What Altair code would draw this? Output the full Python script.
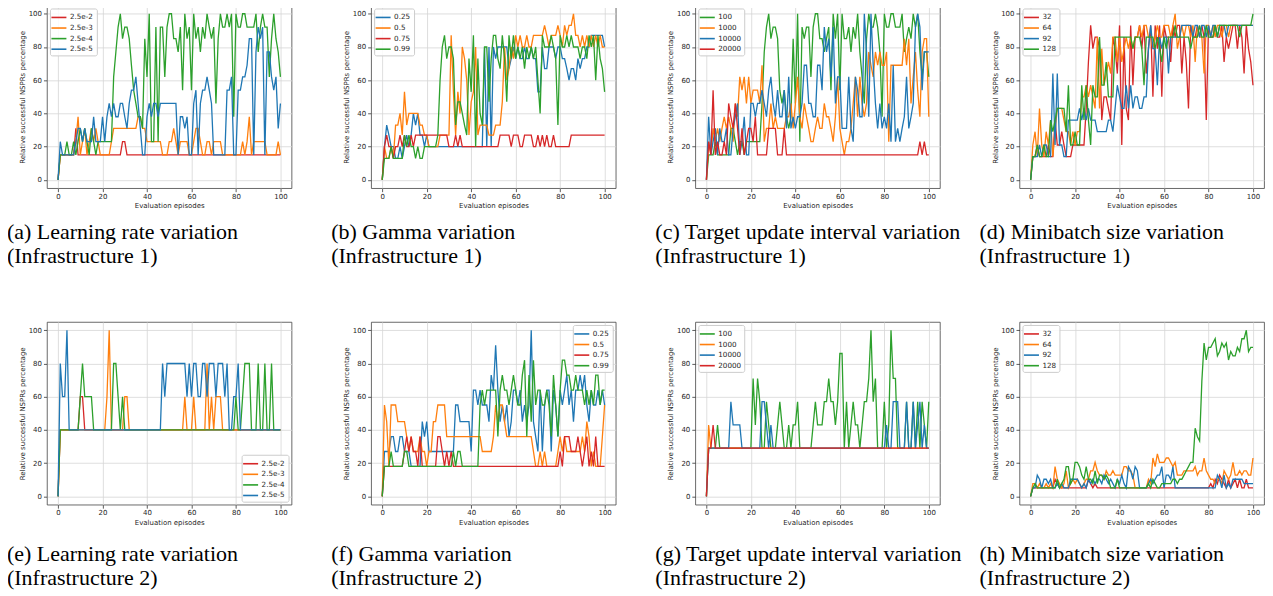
import altair as alt
import pandas as pd

episodes = list(range(101))

# ---------------- Panel (a): learning rate, infrastructure 1 ----------------
a_names = ["2.5e-2", "2.5e-3", "2.5e-4", "2.5e-5"]
a_colors = ["#d62728", "#ff7f0e", "#2ca02c", "#1f77b4"]
a_v1 = [0,15,15,15,15,15,15,15,31,15, 15,15,15,15,15,15,15,15,15,15, 15,15,15,15,15,15,15,15,15,23,
        23,15,15,15,15,15,15,15,15,15, 15,15,15,15,15,15,15,15,15,15, 15,15,15,15,15,15,15,15,15,15,
        15,15,15,15,15,15,15,15,15,15, 15,15,15,15,15,15,15,15,15,15, 15,15,15,15,15,15,15,15,15,15,
        15,15,15,15,15,15,15,15,15,15, 15]
a_v2 = [0,15,15,15,15,15,15,15,23,38, 15,23,31,15,23,31,23,31,23,15, 15,15,15,15,23,31,31,31,31,31,
        31,31,31,31,31,31,38,38,31,31, 23,23,23,23,23,23,23,15,15,15, 23,23,31,23,15,23,23,23,23,15,
        15,23,31,31,23,15,15,23,23,15, 23,23,23,23,15,15,15,15,15,15, 15,15,15,23,15,23,38,15,23,23,
        23,23,23,23,15,15,15,15,15,23, 15]
a_v3 = [0,15,15,15,23,15,15,23,15,23, 31,23,31,23,15,31,23,15,23,23, 23,23,23,23,23,62,77,92,100,85,
        92,92,85,69,54,46,38,38,31,85, 62,100,23,23,92,23,92,92,62,92, 100,100,85,85,77,92,54,100,85,92,
        54,100,85,92,77,92,85,100,92,85, 92,46,85,100,92,92,100,92,100,38, 100,92,92,100,100,92,92,92,92,100,
        77,92,100,92,92,62,85,100,85,77, 62]
a_v4 = [0,23,15,15,15,15,15,15,23,31, 31,23,31,23,23,23,38,23,23,23, 38,23,38,46,38,46,38,38,46,46,
        38,31,46,54,54,62,46,31,15,15, 38,46,38,46,46,38,46,46,46,46, 46,46,46,46,15,38,38,31,38,15,
        15,46,54,15,46,54,54,62,54,46, 15,15,15,15,15,15,54,54,62,15, 15,54,54,62,62,69,85,85,15,77,
        92,85,92,15,77,77,62,54,62,31, 46]

# ---------------- Panel (b): gamma, infrastructure 1 ----------------
b_names = ["0.25", "0.5", "0.75", "0.99"]
b_colors = ["#1f77b4", "#ff7f0e", "#d62728", "#2ca02c"]
b_v1 = [0,20,33,27,20,20,13,13,20,13, 20,27,20,27,40,33,40,27,27,20, 27,20,20,20,20,20,20,20,20,20,
        20,20,20,20,20,20,20,20,20,20, 20,20,20,20,20,20,80,20,80,20, 80,73,80,80,80,80,80,67,73,80,
        73,80,73,73,80,73,73,80,73,73, 53,53,80,67,67,80,80,80,73,80, 80,73,73,67,60,67,67,60,73,67,
        73,73,80,80,87,87,87,87,87,87, 80]
b_v2 = [0,20,13,13,20,13,33,33,40,27, 53,33,40,40,40,40,40,33,33,27, 27,20,20,20,20,20,27,27,27,27,
        27,87,53,27,53,40,80,73,60,27, 47,53,80,27,33,33,33,33,27,27, 27,33,33,33,47,80,60,67,80,73,
        87,80,87,80,80,87,80,80,87,87, 87,87,87,93,87,80,87,87,87,93, 87,80,93,87,93,93,100,87,87,80,
        87,80,87,80,87,80,87,80,87,80, 80]
b_v3 = [0,20,27,20,20,13,20,20,27,20, 27,20,20,27,20,27,27,27,27,27, 27,27,27,27,27,27,27,27,27,27,
        20,20,20,27,20,27,20,20,20,20, 20,20,20,20,20,20,20,20,20,20, 20,20,20,27,27,27,27,27,20,27,
        27,27,20,20,27,27,27,27,20,20, 27,20,27,20,27,20,20,27,20,20, 20,20,20,20,20,27,27,27,27,27,
        27,27,27,27,27,27,27,27,27,27, 27]
b_v4 = [0,13,13,13,20,13,13,13,13,13, 27,20,27,20,20,13,20,13,13,20, 20,20,20,20,20,27,60,80,87,73,
        80,80,73,33,47,47,40,33,27,73, 53,87,20,73,40,33,80,80,47,73, 87,87,73,67,87,73,47,87,73,87,
        73,80,73,80,67,80,73,80,73,80, 60,40,87,80,80,80,87,80,73,33, 87,80,80,87,80,87,80,80,80,73,
        80,80,73,87,80,87,60,87,73,67, 53]

# ---------------- Panel (c): target update interval, infrastructure 1 ----------------
c_names = ["100", "1000", "10000", "20000"]
c_colors = ["#2ca02c", "#ff7f0e", "#1f77b4", "#d62728"]
c_v1 = [0,15,15,15,23,15,15,15,15,15, 15,31,31,23,15,23,23,15,23,23, 23,23,23,23,23,46,77,92,100,85,
        92,92,85,54,46,54,38,31,38,85, 46,100,23,92,85,92,92,62,92,100, 100,85,85,77,85,92,54,100,85,100,
        54,100,85,85,92,77,92,85,100,77, 62,46,85,100,92,92,100,92,77,38, 100,92,92,100,100,92,92,92,100,77,
        85,92,85,100,92,100,77,62,77,77, 62]
c_v2 = [0,23,15,31,23,31,23,31,38,31, 38,31,23,46,38,62,54,62,46,62, 46,54,54,54,46,69,23,31,31,46,
        31,38,31,31,31,31,38,38,46,31, 46,62,38,31,46,38,31,23,23,31, 38,31,31,46,38,38,31,23,38,62,
        31,23,15,23,23,31,46,62,38,62, 46,38,46,77,69,62,77,69,77,69, 69,77,23,69,69,69,69,69,69,85,
        69,85,46,62,77,54,38,77,85,85, 38]
c_v3 = [0,38,15,23,31,15,31,23,23,31, 15,15,31,38,46,15,23,38,15,15, 46,46,38,46,46,54,46,38,54,62,
        46,38,54,38,38,54,31,62,31,38, 31,38,38,46,69,69,46,46,38,38, 69,69,54,92,77,85,62,92,46,62,
        62,31,31,31,62,31,23,62,54,38, 38,100,77,38,100,69,46,31,46,31, 38,31,46,23,69,23,31,23,31,38,
        62,31,38,46,92,100,92,54,77,77, 77]
c_v4 = [0,23,15,54,15,23,15,15,23,15, 46,38,31,46,31,15,31,15,23,31, 31,23,38,15,15,15,15,15,31,31,
        31,31,15,15,15,31,15,15,15,15, 15,15,15,15,15,15,15,15,15,15, 15,15,15,15,15,15,15,15,15,15,
        15,15,15,15,15,15,15,15,15,15, 15,15,15,15,15,15,15,15,15,15, 15,15,15,15,15,15,15,15,15,15,
        15,15,15,15,15,15,23,15,23,15, 15]

# ---------------- Panel (d): minibatch size, infrastructure 1 ----------------
d_names = ["32", "64", "92", "128"]
d_colors = ["#d62728", "#ff7f0e", "#1f77b4", "#2ca02c"]
d_v1 = [0,14,14,21,14,14,14,14,21,14, 14,36,21,21,29,21,14,14,14,21, 21,21,21,21,21,43,71,93,79,86,
        86,79,36,50,50,43,36,86,79,64, 93,21,86,43,36,93,57,86,86,93, 79,93,64,79,93,50,93,79,93,50,
        93,86,86,71,93,86,93,93,64,86, 71,43,93,86,86,93,86,93,86,36, 93,86,86,93,86,86,93,71,86,79,
        86,93,93,79,93,86,64,93,79,71, 57]
d_v2 = [0,21,29,14,43,21,14,29,21,36, 14,29,43,43,43,36,29,29,21,29, 21,29,29,50,50,57,50,57,50,43,
        86,43,79,57,64,71,64,86,86,71, 86,71,79,86,79,86,79,86,86,93, 86,93,93,86,86,79,86,93,86,86,
        93,93,93,86,93,100,79,86,93,86, 93,93,86,93,71,93,86,86,64,93, 93,86,93,86,93,93,86,93,93,86,
        93,93,93,93,93,93,93,93,93,93, 93]
d_v3 = [0,14,14,14,21,14,21,21,14,14, 64,21,64,21,21,14,14,36,36,36, 36,36,43,36,43,36,43,36,36,36,
        29,29,29,29,29,36,36,29,43,57, 50,43,43,57,43,57,43,50,50,43, 43,50,50,79,93,79,79,57,86,79,
        86,86,64,86,86,86,86,86,93,93, 93,93,93,86,93,93,86,93,93,86, 93,86,93,93,86,93,93,93,86,93,
        93,93,93,93,93,93,93,93,93,93, 93]
d_v4 = [0,14,14,21,14,14,21,14,14,36, 29,36,43,43,43,43,29,57,21,21, 29,21,21,57,36,57,36,21,57,50,
        50,86,57,57,71,50,50,50,86,86, 86,86,86,86,86,86,79,86,86,86, 79,57,86,86,86,86,79,86,79,71,
        86,79,86,86,86,93,86,86,86,86, 86,86,79,86,86,86,93,86,86,93, 86,86,86,93,86,93,93,93,93,93,
        93,93,93,93,86,93,93,93,93,93, 100]

# ---------------- Panel (e): learning rate, infrastructure 2 ----------------
e_names = a_names
e_colors = a_colors
e_v1 = [0,40,40,40,40,40,40,40,40,40, 60,60,40,40,40,40,40,40,40,40, 40,40,40,40,40,40,40,40,40,40,
        40,40,40,40,40,40,40,40,40,40, 40,40,40,40,40,40,40,40,40,40, 40,40,40,40,40,40,40,40,40,40,
        40,40,40,40,40,40,40,40,40,40, 40,40,40,40,40,40,40,40,40,40, 40,40,40,40,40,40,40,40,40,40,
        40,40,40,40,40,40,40,40,40,40, 40]
e_v2 = [0,40,40,40,40,40,40,40,40,40, 40,40,40,40,40,40,40,40,40,40, 40,40,60,100,40,40,40,40,40,40,
        60,60,40,40,40,40,40,40,40,40, 40,40,40,40,40,40,40,40,40,40, 40,40,40,40,40,40,40,60,40,40,
        40,60,40,40,40,40,40,80,40,60, 40,60,60,60,40,40,40,40,40,40, 40,40,40,40,40,40,40,40,40,40,
        40,40,40,40,40,40,40,40,40,40, 40]
e_v3 = [0,40,40,40,40,40,40,40,40,40, 60,80,60,60,60,60,40,40,40,40, 40,40,40,40,40,80,80,60,40,60,
        40,40,40,40,40,40,40,40,40,40, 40,40,40,40,40,40,40,40,40,40, 40,40,40,40,40,40,40,40,40,40,
        40,40,40,40,40,40,40,40,40,40, 40,40,40,40,40,40,40,40,40,40, 60,40,40,60,80,80,80,40,40,40,
        80,40,40,80,40,40,80,40,40,40, 40]
e_v4 = [0,80,60,60,100,40,40,40,40,40, 40,40,40,40,40,40,40,40,40,40, 40,40,40,40,40,40,40,40,40,40,
        40,40,40,40,40,40,40,40,40,40, 40,40,40,40,40,40,40,80,60,80, 80,80,80,80,80,80,80,80,60,80,
        60,80,80,60,60,80,80,60,80,80, 80,60,80,80,80,60,80,40,40,60, 60,80,40,40,40,40,40,40,40,40,
        40,40,40,40,40,40,40,40,40,40, 40]

# ---------------- Panel (f): gamma, infrastructure 2 ----------------
f_names = b_names
f_colors = b_colors
f_v1 = [0,27,27,27,36,36,27,27,36,36, 27,27,27,18,18,18,18,18,45,36, 45,27,27,27,27,27,27,27,27,27,
        27,27,27,55,55,45,45,45,45,45, 27,64,64,55,64,55,55,55,45,73, 64,91,64,45,55,45,55,36,45,64,
        64,55,64,45,55,45,55,100,45,36, 27,64,27,55,64,64,27,64,55,36, 64,55,64,73,55,64,45,64,64,73,
        64,73,55,45,64,55,55,64,55,64, 55]
f_v2 = [0,55,45,18,55,55,55,45,45,45, 45,36,27,36,27,27,27,36,27,27, 18,27,27,45,45,55,55,55,55,36,
        36,36,36,36,36,36,36,36,36,36, 36,36,36,36,36,27,27,27,27,27, 36,55,45,55,55,45,36,36,36,36,
        36,36,36,36,36,36,36,36,27,18, 18,27,18,27,18,18,18,18,18,27, 36,27,36,27,27,27,27,27,27,27,
        36,27,45,36,18,27,18,18,18,36, 55]
f_v3 = [0,18,18,18,18,18,18,18,18,18, 27,36,27,36,27,27,18,36,18,18, 18,18,18,18,18,36,36,27,18,27,
        18,27,18,18,18,18,18,18,18,18, 18,18,18,18,18,18,18,18,18,18, 18,18,18,18,18,18,18,18,18,18,
        18,18,18,18,18,18,18,18,18,18, 18,18,18,18,18,18,18,18,18,18, 27,18,36,36,36,27,27,27,36,27,
        18,27,36,18,27,18,36,18,18,18, 18]
f_v4 = [0,18,18,18,27,18,18,18,18,18, 27,27,18,18,18,18,18,18,18,18, 18,18,18,18,18,18,18,18,18,18,
        18,18,27,18,27,27,18,18,18,18, 18,18,18,18,55,64,55,64,64,64, 64,64,36,64,73,64,64,55,64,73,
        64,55,55,73,82,36,73,45,82,55, 64,64,55,55,64,55,36,73,55,36, 64,82,82,73,73,64,64,73,64,64,
        64,55,64,55,64,55,73,73,55,64, 64]

# ---------------- Panel (g): target update interval, infrastructure 2 ----------------
g_names = c_names
g_colors = c_colors
g_v1 = [0,29,29,29,29,43,29,29,29,29, 29,29,29,29,29,29,29,29,29,29, 29,71,43,71,57,29,29,57,43,29,
        29,29,43,57,43,29,29,43,29,43, 43,57,29,29,29,29,29,29,43,57, 43,43,43,57,57,71,57,57,43,57,
        86,86,29,57,29,43,57,43,43,29, 43,57,57,71,100,57,71,29,29,29, 57,29,43,100,71,71,29,29,29,29,
        57,29,29,57,29,57,29,57,43,29, 57]
g_v2 = [0,43,29,29,29,29,29,29,29,29, 29,29,29,29,29,29,29,29,29,29, 29,29,29,29,29,29,29,29,29,29,
        29,29,29,29,29,29,29,29,29,29, 29,29,29,29,29,29,29,29,29,29, 29,29,29,29,29,29,29,29,29,29,
        29,29,29,29,29,29,29,29,29,29, 29,29,29,29,29,29,29,29,29,29, 29,29,29,29,29,29,29,29,29,29,
        29,29,29,29,29,29,29,29,29,29, 29]
g_v3 = [0,29,29,29,29,29,29,29,29,29, 29,57,43,43,43,43,29,29,29,29, 29,29,29,29,29,57,57,43,29,43,
        29,29,29,29,29,29,29,29,29,29, 29,29,29,29,29,29,29,29,29,29, 29,29,29,29,29,29,29,29,29,29,
        29,29,29,29,29,29,29,29,29,29, 29,29,29,29,29,29,29,29,29,29, 29,43,29,29,57,57,57,29,29,29,
        57,29,29,57,29,43,57,29,43,29, 29]
g_v4 = [0,29,29,43,29,29,29,29,29,29, 29,29,29,29,29,29,29,29,29,29, 29,29,29,29,29,29,29,29,29,29,
        29,29,29,29,29,29,29,29,29,29, 29,29,29,29,29,29,29,29,29,29, 29,29,29,29,29,29,29,29,29,29,
        29,29,29,29,29,29,29,29,29,29, 29,29,29,29,29,29,29,29,29,29, 29,29,29,29,29,29,29,29,29,29,
        29,29,29,29,29,29,29,29,29,29, 29]

# ---------------- Panel (h): minibatch size, infrastructure 2 ----------------
h_names = d_names
h_colors = d_colors
h_v1 = [0,5.1,5.1,5.1,5.1,5.1,5.1,5.1,5.1,5.1, 5.1,10.3,7.7,5.1,5.1,5.1,5.1,5.1,5.1,5.1,
        5.1,5.1,5.1,5.1,5.1,5.1,10.3,7.7,5.1,7.7, 5.1,5.1,5.1,5.1,5.1,5.1,5.1,5.1,5.1,5.1,
        5.1,5.1,5.1,5.1,5.1,5.1,5.1,5.1,5.1,5.1, 5.1,5.1,5.1,5.1,5.1,5.1,5.1,5.1,5.1,5.1,
        5.1,5.1,5.1,5.1,5.1,5.1,5.1,5.1,5.1,5.1, 5.1,5.1,5.1,5.1,5.1,5.1,5.1,5.1,5.1,5.1,
        5.1,7.7,5.1,10.3,7.7,12.8,10.3,7.7,5.1,10.3, 5.1,7.7,10.3,5.1,10.3,5.1,5.1,10.3,5.1,5.1, 5.1]
h_v2 = [0,7.7,7.7,5.1,7.7,5.1,5.1,7.7,5.1,7.7, 5.1,17.9,10.3,7.7,5.1,7.7,15.4,5.1,7.7,10.3,
        7.7,10.3,7.7,5.1,7.7,10.3,10.3,15.4,15.4,20.5, 15.4,12.8,12.8,10.3,15.4,12.8,12.8,15.4,12.8,12.8,
        12.8,12.8,17.9,17.9,15.4,15.4,12.8,5.1,5.1,5.1, 5.1,5.1,5.1,10.3,7.7,23.1,17.9,25.6,20.5,20.5,
        20.5,23.1,23.1,20.5,17.9,20.5,12.8,12.8,12.8,15.4, 15.4,15.4,15.4,15.4,17.9,12.8,15.4,15.4,23.1,15.4,
        12.8,10.3,10.3,7.7,10.3,10.3,7.7,15.4,12.8,10.3, 12.8,20.5,12.8,12.8,15.4,12.8,15.4,15.4,12.8,12.8, 23.1]
h_v3 = [0,5.1,5.1,12.8,10.3,5.1,10.3,10.3,7.7,10.3, 5.1,5.1,7.7,5.1,7.7,5.1,5.1,5.1,10.3,10.3,
        10.3,10.3,7.7,5.1,7.7,5.1,10.3,7.7,10.3,7.7, 10.3,10.3,7.7,12.8,10.3,7.7,10.3,7.7,5.1,10.3,
        7.7,12.8,7.7,5.1,17.9,15.4,10.3,17.9,15.4,5.1, 5.1,5.1,5.1,7.7,10.3,7.7,10.3,12.8,12.8,17.9,
        5.1,12.8,12.8,10.3,17.9,5.1,5.1,5.1,5.1,5.1, 5.1,5.1,5.1,5.1,5.1,5.1,5.1,5.1,5.1,5.1,
        5.1,5.1,5.1,5.1,12.8,10.3,5.1,12.8,5.1,7.7, 5.1,10.3,10.3,10.3,10.3,10.3,7.7,7.7,7.7,7.7, 7.7]
h_v4 = [0,5.1,7.7,5.1,5.1,5.1,5.1,5.1,5.1,5.1, 5.1,5.1,10.3,5.1,7.7,10.3,17.9,17.9,7.7,10.3,
        20.5,20.5,17.9,12.8,10.3,17.9,10.3,10.3,7.7,15.4, 7.7,12.8,12.8,10.3,12.8,10.3,5.1,5.1,5.1,10.3,
        5.1,5.1,5.1,5.1,5.1,5.1,5.1,5.1,5.1,5.1, 5.1,5.1,5.1,7.7,5.1,10.3,7.7,5.1,5.1,7.7,
        7.7,7.7,7.7,7.7,10.3,10.3,7.7,10.3,10.3,12.8, 15.4,17.9,20.5,20.5,41.0,35.9,33.3,69.2,92.3,82.1,
        89.7,89.7,92.3,94.9,84.6,87.2,92.3,89.7,92.3,82.1, 87.2,84.6,84.6,89.7,87.2,94.9,94.9,100,87.2,89.7, 89.7]

captions = [
    "(a) Learning rate variation\n(Infrastructure 1)",
    "(b) Gamma variation\n(Infrastructure 1)",
    "(c) Target update interval variation\n(Infrastructure 1)",
    "(d) Minibatch size variation\n(Infrastructure 1)",
    "(e) Learning rate variation\n(Infrastructure 2)",
    "(f) Gamma variation\n(Infrastructure 2)",
    "(g) Target update interval variation\n(Infrastructure 2)",
    "(h) Minibatch size variation\n(Infrastructure 2)",
]

panels_spec = [
    (a_names, a_colors, [a_v1, a_v2, a_v3, a_v4], "top-left"),
    (b_names, b_colors, [b_v1, b_v2, b_v3, b_v4], "top-left"),
    (c_names, c_colors, [c_v1, c_v2, c_v3, c_v4], "top-left"),
    (d_names, d_colors, [d_v1, d_v2, d_v3, d_v4], "top-left"),
    (e_names, e_colors, [e_v1, e_v2, e_v3, e_v4], "bottom-right"),
    (f_names, f_colors, [f_v1, f_v2, f_v3, f_v4], "top-right"),
    (g_names, g_colors, [g_v1, g_v2, g_v3, g_v4], "top-left"),
    (h_names, h_colors, [h_v1, h_v2, h_v3, h_v4], "top-left"),
]

FONT = "DejaVu Sans"
TXT = "#262626"

def make_axis(title, label_pad):
    return alt.Axis(
        values=[0, 20, 40, 60, 80, 100], title=title, grid=True,
        gridColor="#d5d5d5", gridWidth=0.8, domain=False,
        tickColor="#333333", tickSize=3.5, tickWidth=0.8,
        labelFont=FONT, labelFontSize=7, labelColor=TXT, labelPadding=label_pad,
        titleFont=FONT, titleFontSize=7, titleFontWeight="normal",
        titleColor=TXT, titlePadding=2.5,
    )

def make_panel(idx, names, colors, series, orient, caption):
    rows = []
    for name, vals in zip(names, series):
        for ep, v in zip(episodes, vals):
            rows.append({"ep": ep, "val": v, "series": name})
    df = pd.DataFrame(rows)
    color = alt.Color(
        "series:N",
        scale=alt.Scale(domain=names, range=colors),
        legend=alt.Legend(
            title=None, orient=orient, offset=3, padding=3,
            fillColor="rgba(255,255,255,0.85)", strokeColor="#cccccc",
            cornerRadius=2, labelFont=FONT, labelFontSize=7.2, labelColor=TXT,
            symbolType="M-1.5,0H1.5", symbolSize=100, symbolStrokeWidth=1.6,
            rowPadding=0.6, labelOffset=5, symbolOpacity=1,
        ),
    )
    layers = []
    for name in names:
        layers.append(
            alt.Chart(df)
            .transform_filter(alt.datum.series == name)
            .mark_line(strokeWidth=1.3)
            .encode(
                x=alt.X("ep:Q", scale=alt.Scale(domain=[-5, 105], nice=False, zero=False),
                        axis=make_axis("Evaluation episodes", 0.5)),
                y=alt.Y("val:Q", scale=alt.Scale(domain=[-5, 105], nice=False, zero=False),
                        axis=make_axis("Relative successful NSPRs percentage", 2)),
                color=color,
            )
        )
    cap_y = 234 if idx < 4 else 239.5
    cap = (
        alt.Chart(pd.DataFrame({"t": [caption]}))
        .mark_text(align="left", baseline="alphabetic", font="Liberation Serif",
                   fontSize=22, lineBreak="\n", lineHeight=24, color="black")
        .encode(x=alt.value(-40), y=alt.value(cap_y), text="t:N")
    )
    return alt.layer(*layers, cap).properties(width=245, height=183)

panels = [make_panel(i, *spec, captions[i]) for i, spec in enumerate(panels_spec)]

chart = (
    alt.concat(*panels, columns=4, spacing={"row": 134, "column": 79.7}, bounds="flush")
    .resolve_scale(color="independent", x="independent", y="independent")
    .resolve_legend(color="independent")
    .properties(padding={"left": -2, "top": -4, "right": 0, "bottom": 0}, background="white")
    .configure_view(stroke="#444444", strokeWidth=0.8)
)

chart.save("out.html", embed_options={"renderer": "svg", "actions": False})
